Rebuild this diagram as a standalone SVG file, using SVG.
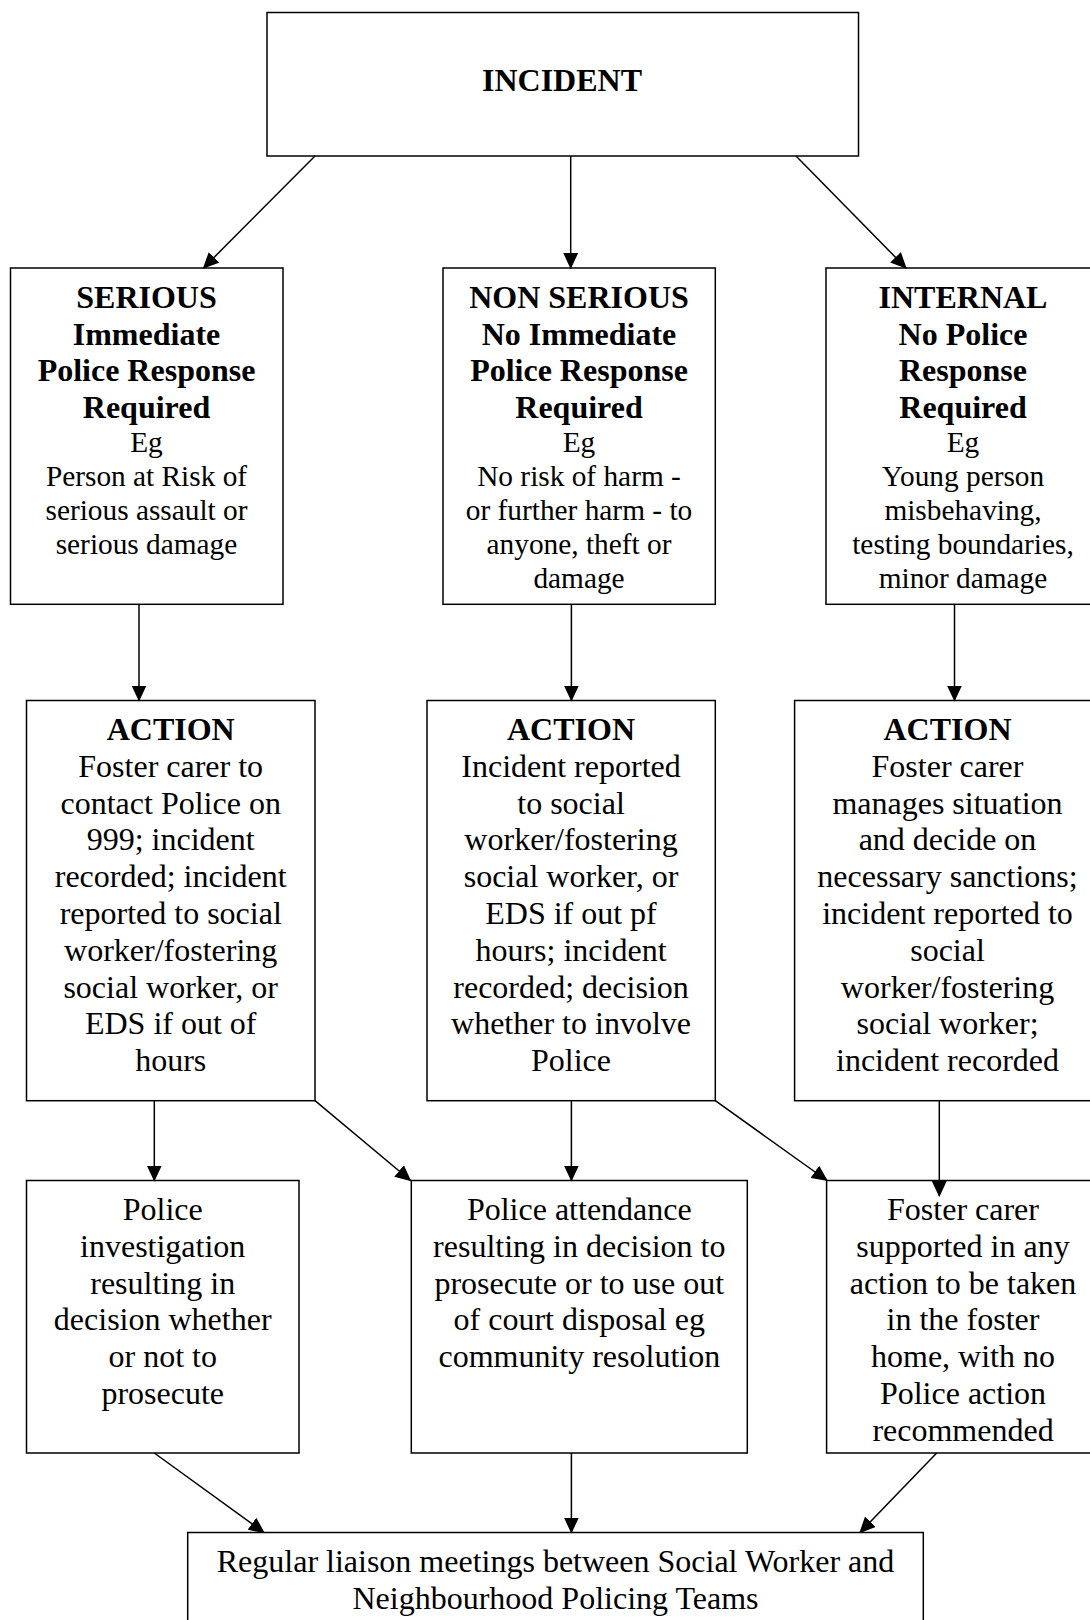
<svg xmlns="http://www.w3.org/2000/svg" width="1090" height="1620" viewBox="0 0 1090 1620">
<style>
rect{fill:#fff;stroke:#000;stroke-width:1.5}
text{font-family:"Liberation Serif","Times New Roman",serif;fill:#000;text-anchor:middle}
.b{font-weight:bold;font-size:32px}
.r{font-size:32px}
.s{font-size:29.33px}
.c line{stroke:#000;stroke-width:1.5;marker-end:url(#arr)}
</style>
<defs>
<marker id="arr" markerUnits="userSpaceOnUse" markerWidth="16" markerHeight="15" viewBox="0 0 15 14" refX="14" refY="7" orient="auto">
<path d="M0,0 L15,7 L0,14 z" fill="#000"/>
</marker>
</defs>
<rect width="1090" height="1620" fill="#fff" stroke="none" style="stroke:none"/>
<g id="incident">
<rect x="267" y="12.5" width="591.5" height="143.5"/>
<text class="b" x="562" y="90.5">INCIDENT</text>
</g>
<g id="serious">
<rect x="10.5" y="268" width="272.5" height="336.3"/>
<text class="b" x="146.5" y="307.7">SERIOUS</text>
<text class="b" x="146.5" y="344.5">Immediate</text>
<text class="b" x="146.5" y="381.3">Police Response</text>
<text class="b" x="146.5" y="418">Required</text>
<text class="s" x="146.5" y="452">Eg</text>
<text class="s" x="146.5" y="486">Person at Risk of</text>
<text class="s" x="146.5" y="520">serious assault or</text>
<text class="s" x="146.5" y="554">serious damage</text>
</g>
<g id="nonserious">
<rect x="443" y="268" width="272.3" height="336.3"/>
<text class="b" x="579" y="307.7">NON SERIOUS</text>
<text class="b" x="579" y="344.5">No Immediate</text>
<text class="b" x="579" y="381.3">Police Response</text>
<text class="b" x="579" y="418">Required</text>
<text class="s" x="579" y="452">Eg</text>
<text class="s" x="579" y="486">No risk of harm -</text>
<text class="s" x="579" y="520">or further harm - to</text>
<text class="s" x="579" y="554">anyone, theft or</text>
<text class="s" x="579" y="588">damage</text>
</g>
<g id="internal">
<rect x="826" y="268" width="274" height="336.3"/>
<text class="b" x="963" y="307.7">INTERNAL</text>
<text class="b" x="963" y="344.5">No Police</text>
<text class="b" x="963" y="381.3">Response</text>
<text class="b" x="963" y="418">Required</text>
<text class="s" x="963" y="452">Eg</text>
<text class="s" x="963" y="486">Young person</text>
<text class="s" x="963" y="520">misbehaving,</text>
<text class="s" x="963" y="554">testing boundaries,</text>
<text class="s" x="963" y="588">minor damage</text>
</g>
<g id="action1">
<rect x="26.5" y="700.5" width="288.5" height="400.2"/>
<text class="b" x="170.7" y="740">ACTION</text>
<text class="r" x="170.7" y="776.8">Foster carer to</text>
<text class="r" x="170.7" y="813.6">contact Police on</text>
<text class="r" x="170.7" y="850.4">999; incident</text>
<text class="r" x="170.7" y="887.2">recorded; incident</text>
<text class="r" x="170.7" y="924">reported to social</text>
<text class="r" x="170.7" y="960.8">worker/fostering</text>
<text class="r" x="170.7" y="997.6">social worker, or</text>
<text class="r" x="170.7" y="1034.4">EDS if out of</text>
<text class="r" x="170.7" y="1071.2">hours</text>
</g>
<g id="action2">
<rect x="427" y="700.5" width="288.3" height="400.2"/>
<text class="b" x="571" y="740">ACTION</text>
<text class="r" x="571" y="776.8">Incident reported</text>
<text class="r" x="571" y="813.6">to social</text>
<text class="r" x="571" y="850.4">worker/fostering</text>
<text class="r" x="571" y="887.2">social worker, or</text>
<text class="r" x="571" y="924">EDS if out pf</text>
<text class="r" x="571" y="960.8">hours; incident</text>
<text class="r" x="571" y="997.6">recorded; decision</text>
<text class="r" x="571" y="1034.4">whether to involve</text>
<text class="r" x="571" y="1071.2">Police</text>
</g>
<g id="action3">
<rect x="794.6" y="700.5" width="305.4" height="400.2"/>
<text class="b" x="947.5" y="740">ACTION</text>
<text class="r" x="947.5" y="776.8">Foster carer</text>
<text class="r" x="947.5" y="813.6">manages situation</text>
<text class="r" x="947.5" y="850.4">and decide on</text>
<text class="r" x="947.5" y="887.2">necessary sanctions;</text>
<text class="r" x="947.5" y="924">incident reported to</text>
<text class="r" x="947.5" y="960.8">social</text>
<text class="r" x="947.5" y="997.6">worker/fostering</text>
<text class="r" x="947.5" y="1034.4">social worker;</text>
<text class="r" x="947.5" y="1071.2">incident recorded</text>
</g>
<g id="outcome1">
<rect x="26.5" y="1180.5" width="272.5" height="272.5"/>
<text class="r" x="162.7" y="1220">Police</text>
<text class="r" x="162.7" y="1256.8">investigation</text>
<text class="r" x="162.7" y="1293.6">resulting in</text>
<text class="r" x="162.7" y="1330.4">decision whether</text>
<text class="r" x="162.7" y="1367.2">or not to</text>
<text class="r" x="162.7" y="1404">prosecute</text>
</g>
<g id="outcome2">
<rect x="411.3" y="1180.5" width="336" height="272.5"/>
<text class="r" x="579.3" y="1220">Police attendance</text>
<text class="r" x="579.3" y="1256.8">resulting in decision to</text>
<text class="r" x="579.3" y="1293.6">prosecute or to use out</text>
<text class="r" x="579.3" y="1330.4">of court disposal eg</text>
<text class="r" x="579.3" y="1367.2">community resolution</text>
</g>
<g id="outcome3">
<rect x="826.6" y="1180.5" width="273.4" height="272.5"/>
<text class="r" x="963" y="1220">Foster carer</text>
<text class="r" x="963" y="1256.8">supported in any</text>
<text class="r" x="963" y="1293.6">action to be taken</text>
<text class="r" x="963" y="1330.4">in the foster</text>
<text class="r" x="963" y="1367.2">home, with no</text>
<text class="r" x="963" y="1404">Police action</text>
<text class="r" x="963" y="1440.8">recommended</text>
</g>
<g id="liaison">
<rect x="187.7" y="1532.5" width="735.6" height="110"/>
<text class="r" x="555.5" y="1571.7">Regular liaison meetings between Social Worker and</text>
<text class="r" x="555.5" y="1608.5">Neighbourhood Policing Teams</text>
</g>
<g id="connectors" class="c">
<line x1="315" y1="156" x2="203.5" y2="268"/>
<line x1="570.7" y1="156" x2="570.7" y2="268"/>
<line x1="796" y1="156" x2="906" y2="268"/>
<line x1="139" y1="604.3" x2="139" y2="700.5"/>
<line x1="571.4" y1="604.3" x2="571.4" y2="700.5"/>
<line x1="954.5" y1="604.3" x2="954.5" y2="700.5"/>
<line x1="154.3" y1="1100.7" x2="154.3" y2="1180.5"/>
<line x1="315" y1="1100.7" x2="410.5" y2="1180.5"/>
<line x1="571.4" y1="1100.7" x2="571.4" y2="1180.5"/>
<line x1="715.3" y1="1100.7" x2="827" y2="1180.5"/>
<line x1="939.3" y1="1100.7" x2="939.3" y2="1196"/>
<line x1="154.3" y1="1453" x2="264" y2="1532.5"/>
<line x1="571.4" y1="1453" x2="571.4" y2="1532.5"/>
<line x1="936.7" y1="1453" x2="860" y2="1532.5"/>
</g>
</svg>
